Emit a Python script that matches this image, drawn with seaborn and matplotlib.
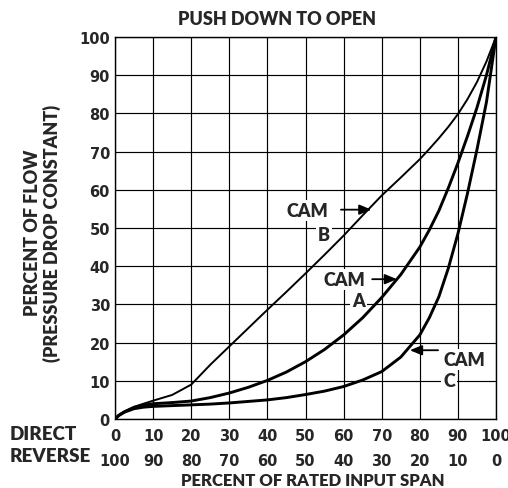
import matplotlib
matplotlib.use("Agg")
import matplotlib.pyplot as plt
import seaborn as sns
import pandas as pd

# ---- data ----
input_span = [0, 1, 2.5, 5, 7.5, 10, 15, 20, 25, 30, 35, 40, 45, 50, 55, 60, 65, 70,
              75, 80, 82.5, 85, 87.5, 90, 92.5, 95, 97.5, 100]
cam_b = [0, 1.0, 2.0, 3.2, 4.0, 4.8, 6.3, 9.0, 14.2, 19.0, 23.8, 28.6, 33.3, 38.1, 43.0,
         48.0, 53.3, 58.5, 63.2, 68.0, 70.7, 73.5, 76.5, 79.8, 83.7, 88.2, 93.6, 100]
cam_a = [0, 1.0, 1.9, 3.0, 3.6, 4.0, 4.3, 4.7, 5.6, 6.8, 8.3, 10.1, 12.3, 15.0, 18.2,
         22.0, 26.5, 31.8, 37.8, 45.0, 49.5, 54.5, 60.5, 67.0, 74.0, 81.5, 90.0, 100]
cam_c = [0, 0.9, 1.8, 2.7, 3.1, 3.3, 3.5, 3.7, 3.9, 4.2, 4.6, 5.0, 5.6, 6.4, 7.3,
         8.5, 10.2, 12.4, 16.2, 22.0, 26.5, 32.0, 39.5, 48.5, 59.0, 70.5, 83.0, 100]

direct_ticks = [0, 10, 20, 30, 40, 50, 60, 70, 80, 90, 100]
reverse_ticks = [100, 90, 80, 70, 60, 50, 40, 30, 20, 10, 0]
flow_ticks = [0, 10, 20, 30, 40, 50, 60, 70, 80, 90, 100]

df = pd.DataFrame({"span": input_span, "B": cam_b, "A": cam_a, "C": cam_c})

sns.set_style("white")
TXT = ["Lato", "DejaVu Sans"]
NUM = ["DejaVu Sans"]
WT = "heavy"

W, H = 508, 489
fig = plt.figure(figsize=(W / 100, H / 100), dpi=100)
x0, x1, ytop, ybot = 115, 496, 38, 420
ax = fig.add_axes([x0 / W, 1 - ybot / H, (x1 - x0) / W, (ybot - ytop) / H])

sns.lineplot(data=df, x="span", y="B", ax=ax, color="black", lw=1.4,
             estimator=None, zorder=4)
sns.lineplot(data=df, x="span", y="A", ax=ax, color="black", lw=2.1,
             estimator=None, zorder=4)
sns.lineplot(data=df, x="span", y="C", ax=ax, color="black", lw=2.1,
             estimator=None, zorder=4)

ax.set_xlim(0, 100)
ax.set_ylim(0, 100)
ax.set_xticks(direct_ticks)
ax.set_xticklabels([f"{d}\n{r}" for d, r in zip(direct_ticks, reverse_ticks)],
                   family=NUM, fontweight="bold", fontsize=10.5, linespacing=1.85)
ax.set_yticks(flow_ticks)
ax.set_yticklabels([str(v) for v in flow_ticks], family=NUM, fontweight="bold",
                   fontsize=10.5)
ax.tick_params(axis="x", length=0, pad=6.5)
ax.tick_params(axis="y", length=0, pad=3.6)
ax.set_xlabel("")
ax.set_ylabel("")
ax.grid(True, color="black", lw=0.85)
ax.set_axisbelow(True)
for s in ax.spines.values():
    s.set_color("black")
    s.set_linewidth(1.0)

# ---- texts ----
fig.text(277 / W, 1 - 25 / H, "PUSH DOWN TO OPEN", ha="center", va="baseline",
         family=TXT, fontweight=WT, fontsize=13)
fig.text(313 / W, 1 - 486 / H, "PERCENT OF RATED INPUT SPAN", ha="center",
         va="baseline", family=TXT, fontweight=WT, fontsize=12)
fig.text(10 / W, 1 - 440 / H, "DIRECT", ha="left", va="baseline",
         family=TXT, fontweight=WT, fontsize=13.5)
fig.text(10 / W, 1 - 462 / H, "REVERSE", ha="left", va="baseline",
         family=TXT, fontweight=WT, fontsize=13.5)
fig.text(42.5 / W, 1 - 233 / H, "PERCENT OF FLOW\n(PRESSURE DROP CONSTANT)",
         rotation=90, ha="center", va="center", multialignment="center",
         linespacing=1.1, family=TXT, fontweight=WT, fontsize=13)

box = dict(facecolor="white", edgecolor="none", pad=1.5)
lab = dict(family=TXT, fontweight=WT, fontsize=13, va="baseline", zorder=3,
           bbox=box)
ax.text(55.9, 53.1, "CAM", ha="right", **lab)
ax.text(56.4, 46.9, "B", ha="right", **lab)
ax.text(65.6, 35.0, "CAM", ha="right", **lab)
ax.text(65.6, 29.5, "A", ha="right", **lab)
ax.text(86.1, 14.1, "CAM", ha="left", **lab)
ax.text(86.1, 8.6, "C", ha="left", **lab)

arr = dict(arrowstyle="-|>,head_length=0.6,head_width=0.25", color="black",
           lw=1.3, mutation_scale=12, shrinkA=0, shrinkB=0)
ax.annotate("", xy=(67.3, 54.8), xytext=(59.3, 54.8), arrowprops=arr, zorder=5)
ax.annotate("", xy=(74.0, 36.6), xytext=(67.5, 36.6), arrowprops=arr, zorder=5)
ax.annotate("", xy=(77.4, 18.0), xytext=(84.8, 18.0), arrowprops=arr, zorder=5)

fig.savefig("out.png", dpi=100)
